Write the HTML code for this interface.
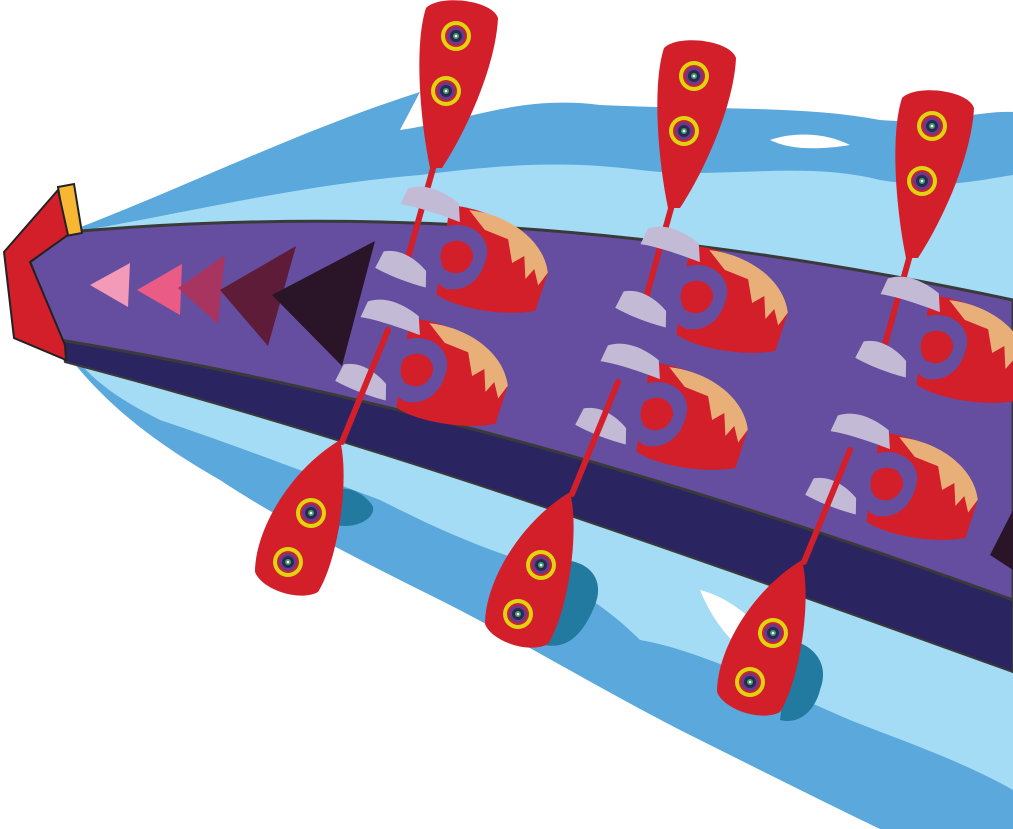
<!DOCTYPE html>
<html><head><meta charset="utf-8"><style>html,body{margin:0;padding:0;background:#fff;overflow:hidden}svg{display:block}</style></head>
<body>
<svg width="1013" height="829" viewBox="0 0 1013 829" xmlns="http://www.w3.org/2000/svg">
<defs>
<g id="ring">
<circle r="15" fill="#e0d410"/><circle r="11" fill="#d21f2a"/><circle r="9" fill="#6a3a8a"/><circle r="6" fill="#2a2a50"/><circle r="3" fill="#3fa06a"/><circle r="1.3" fill="#fff"/>
</g>
<g id="upper-paddle">
<path d="M426,8 C440,-6 492,0 498,18 C496,62 470,125 442,168 L430,168 C420,120 414,45 426,8 Z" fill="#d21f2a"/>
<path d="M434,165 L404,272" stroke="#d21f2a" stroke-width="6" stroke-linecap="round"/>
<use href="#ring" x="456" y="36"/><use href="#ring" x="446" y="91"/>
</g>
<g id="lower-paddle">
<path d="M340,440 C350,480 338,560 318,592 C300,602 262,590 255,572 C255,530 290,470 340,440 Z" fill="#d21f2a"/>
<path d="M342,442 L388,330" stroke="#d21f2a" stroke-width="6" stroke-linecap="round"/>
<use href="#ring" x="311" y="513"/><use href="#ring" x="288" y="562"/>
</g>
<g id="rower">
<path d="M0,0 C50,-8 100,10 112,40 L110,80 C80,95 30,98 10,90 Z" fill="#d21f2a"/>
<path d="M20,0 C60,-6 100,10 112,40 L106,55 L98,40 L92,52 L85,30 L75,40 L65,18 L40,15 Z" fill="#e8b078"/>
<path d="M-8,30 C10,10 40,12 48,35 C52,60 40,80 18,82 C0,80 -12,55 -8,30 Z" fill="#654ea0"/>
<path d="M5,40 C15,28 32,30 36,45 C36,60 25,68 12,64 C4,58 2,48 5,40 Z" fill="#d21f2a"/>
<path d="M-45,-5 C-30,-15 -10,-12 8,-4 L14,14 C-5,12 -30,10 -48,12 Z" fill="#c3bad6"/>
<path d="M-52,62 C-38,55 -20,60 -6,70 L-2,86 C-22,86 -40,84 -56,80 Z" fill="#c3bad6"/>
</g>
</defs>
<rect width="1013" height="829" fill="#fff"/>
<path fill="#5aa8dc" d="M60,235 C180,190 300,130 420,92 L400,130 C470,120 520,95 600,105 C700,110 800,105 880,120 C940,125 980,110 1013,112 L1013,829 L880,829 C820,800 760,770 700,740 C600,690 520,640 440,600 C360,560 280,520 220,480 C150,440 100,400 60,345 Z"/>
<path fill="#a4dcf5" d="M75,232 C200,210 300,185 420,175 C500,165 560,160 640,170 C720,180 800,160 880,180 C940,190 980,180 1013,175 L1013,300 C800,260 500,225 75,235 Z"/>
<path fill="#fff" d="M770,140 C800,130 830,135 850,145 C820,150 790,150 770,140 Z"/>
<path fill="#a4dcf5" d="M70,350 C200,380 400,430 600,490 C800,550 950,610 1013,640 L1013,790 C960,760 900,740 850,720 C780,690 700,650 640,640 C600,600 560,580 520,560 C460,540 420,520 380,500 C300,470 220,440 160,420 C120,400 90,380 70,350 Z"/>
<path fill="#fff" d="M700,590 C740,600 780,640 800,690 C760,670 720,640 700,590 Z"/>
<path fill="#2a2460" stroke="#3a3a3a" stroke-width="2" d="M60,338 C300,380 600,450 1013,600 L1013,672 C700,560 400,450 65,362 Z"/>
<path fill="#654ea0" stroke="#3a3a3a" stroke-width="3" d="M30,262 L68,232 C300,212 600,212 1013,300 L1013,600 C600,450 300,380 60,340 Z"/>
<polygon fill="#f29ab8" points="90,285 130,263 128,307"/>
<polygon fill="#ea5c86" points="137,290 182,264 180,315"/>
<polygon fill="#a83460" points="178,288 225,255 218,324"/>
<polygon fill="#5e1c38" points="220,290 296,246 268,346"/>
<polygon fill="#2a1428" points="272,295 375,241 342,366"/>
<polygon fill="#2a1428" points="990,555 1013,510 1013,570"/>
<polygon fill="#f7b733" stroke="#222" stroke-width="2" points="58,187 74,184 82,233 66,236"/>
<polygon fill="#d21f2a" stroke="#222" stroke-width="2" points="4,252 58,190 68,235 30,262 65,345 66,360 14,338"/>
<use href="#upper-paddle"/>
<use href="#upper-paddle" x="238" y="40"/>
<use href="#upper-paddle" x="476" y="90"/>
<use href="#rower" transform="translate(450,205) rotate(15)"/>
<use href="#rower" transform="translate(690,245) rotate(15)"/>
<use href="#rower" transform="translate(930,295) rotate(15)"/>
<use href="#rower" transform="translate(410,318) rotate(15)"/>
<use href="#rower" transform="translate(650,362) rotate(15)"/>
<use href="#rower" transform="translate(880,432) rotate(15)"/>
<path fill="#237aa0" d="M335,490 C350,485 365,495 372,505 C378,515 360,530 335,525 Z"/>
<path fill="#237aa0" d="M560,560 C590,560 605,580 595,605 C585,630 570,650 545,645 Z"/>
<path fill="#237aa0" d="M790,640 C815,645 830,665 820,690 C815,710 800,725 780,720 Z"/>
<use href="#lower-paddle"/>
<use href="#lower-paddle" x="230" y="52"/>
<use href="#lower-paddle" x="462" y="120"/>
</svg>
</body></html>
